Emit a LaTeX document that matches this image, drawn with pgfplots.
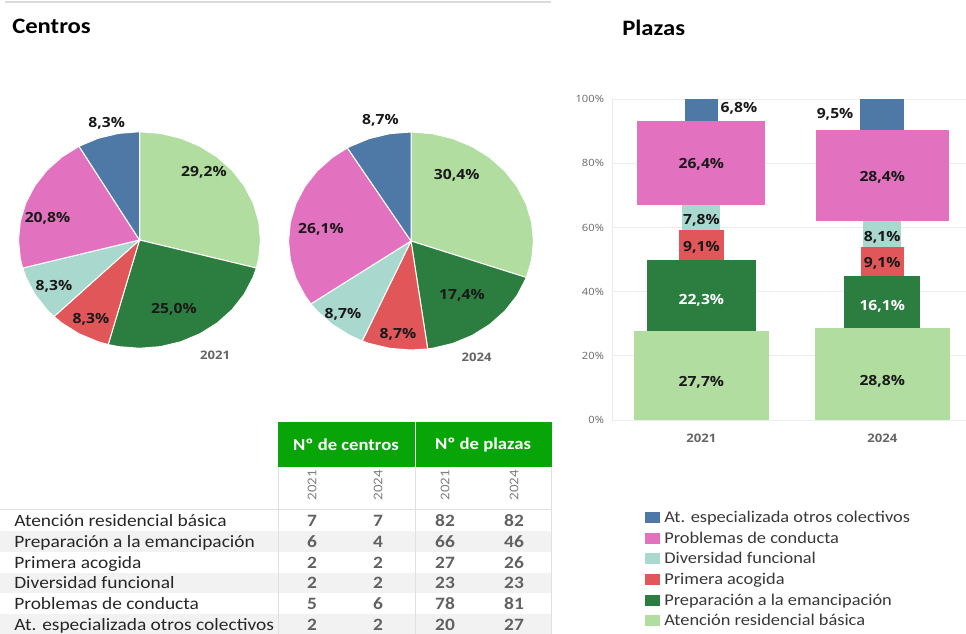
\documentclass[border=0pt]{standalone}
\usepackage{pgfplots}
\pgfplotsset{compat=1.18}
\usepackage{fontspec}
\setmainfont{Carlito}[FakeStretch=1.12]
\newfontfamily\lab{Open Sans}[FakeStretch=1.12]

\definecolor{cLG}{RGB}{177,222,160}
\definecolor{cDG}{RGB}{44,126,64}
\definecolor{cRD}{RGB}{225,86,88}
\definecolor{cTL}{RGB}{168,216,206}
\definecolor{cPK}{RGB}{226,114,192}
\definecolor{cBL}{RGB}{78,121,167}
\definecolor{hdr}{RGB}{8,165,8}

\tikzset{
  lbl/.style={font=\lab\bfseries\fontsize{10.5}{12}\selectfont, text=black!90, inner sep=0pt, text height=7.5pt, text depth=0pt, anchor=center},
  yr/.style={font=\lab\bfseries\fontsize{8.8}{10}\selectfont, text=black!60, inner sep=0pt, text height=6.3pt, text depth=0pt, anchor=center},
}
\pgfplotsset{
  pie/.style={scale only axis, hide axis, xmin=-1, xmax=1, ymin=-1, ymax=1, clip=false},
  slice/.style={fill=#1, draw=white, line width=0.75pt, data cs=polar},
}

\begin{document}
\begin{tikzpicture}
\path[use as bounding box] (0,0) rectangle (724.5pt,-474.75pt);

\begin{scope}[x=0.75pt,y=-0.75pt]
  % top rule and titles
  \draw[line width=1.5pt, black!14] (5,2) -- (551,2);
  \node[anchor=base west, inner sep=0pt, font=\fontsize{16.5}{18}\selectfont\bfseries] at (12,33) {Centros};
  \node[anchor=base west, inner sep=0pt, font=\fontsize{16.5}{18}\selectfont\bfseries] at (622,35) {Plazas};

  % table header
  \fill[hdr] (278.3,422.3) rectangle (414.5,467.3);
  \fill[hdr] (415.5,422.3) rectangle (551.7,467.3);
  \node[font=\fontsize{12.5}{14}\selectfont\bfseries, text=white] at (346,445) {Nº de centros};
  \node[font=\fontsize{12.5}{14}\selectfont\bfseries, text=white] at (483,445) {Nº de plazas};
  \foreach \xx/\yy in {312/2021, 378/2024, 445/2021, 514/2024}
    \node[rotate=90, inner sep=0pt, font=\fontsize{10}{12}\selectfont, text=black!50] at (\xx,485) {\yy};
  % row bands
  \foreach \i in {1,3,5}
    \fill[black!5] (0,{510.6+20.7*\i}) rectangle (552,{510.6+20.7*(\i+1)});
  \draw[black!12, line width=0.75pt] (0,509.5) -- (552,509.5);
  \draw[black!12, line width=0.75pt] (278.3,467.3) -- (278.3,640) (415,467.3) -- (415,640) (551.7,467.3) -- (551.7,640);
  % rows
  \foreach \name/\a/\b/\c/\d [count=\i from 0] in {
      Atención residencial básica/7/7/82/82,
      Preparación a la emancipación/6/4/66/46,
      Primera acogida/2/2/27/26,
      Diversidad funcional/2/2/23/23,
      Problemas de conducta/5/6/78/81,
      At. especializada otros colectivos/2/2/20/27} {
    \node[anchor=west, inner sep=0pt, text height=8.4pt, text depth=0pt, font=\fontsize{13}{15}\selectfont, text=black!85] at (14,{521+20.7*\i}) {\name};
    \foreach \xx/\v in {312/\a, 378/\b, 445/\c, 514/\d}
      \node[inner sep=0pt, text height=8.4pt, text depth=0pt, font=\fontsize{13}{15}\selectfont\bfseries, text=black!62] at (\xx,{521+20.7*\i}) {\v};
  }
\end{scope}

% ---------------- Pie 2021 (centros: 7,6,2,2,5,2 of 24) ----------------
\begin{axis}[pie, at={(104.625pt,-180pt)}, anchor=center, width=181.5pt, height=162.4pt]
\addplot[slice=cLG] coordinates {(0,0) (90,1) (80,1) (70,1) (60,1) (50,1) (40,1) (30,1) (20,1) (10,1) (0,1) (-10,1) (-15,1)} -- cycle;
\addplot[slice=cDG] coordinates {(0,0) (-15,1) (-20,1) (-30,1) (-40,1) (-50,1) (-60,1) (-70,1) (-80,1) (-90,1) (-100,1) (-105,1)} -- cycle;
\addplot[slice=cRD] coordinates {(0,0) (-105,1) (-110,1) (-120,1) (-130,1) (-135,1)} -- cycle;
\addplot[slice=cTL] coordinates {(0,0) (-135,1) (-140,1) (-150,1) (-160,1) (-165,1)} -- cycle;
\addplot[slice=cPK] coordinates {(0,0) (-165,1) (-170,1) (-180,1) (-190,1) (-200,1) (-210,1) (-220,1) (-230,1) (-240,1)} -- cycle;
\addplot[slice=cBL] coordinates {(0,0) (-240,1) (-250,1) (-260,1) (-270,1)} -- cycle;
\node[lbl] at (axis cs:-0.271,1.083) {8,3\%};
\node[lbl] at (axis cs:0.533,0.632) {29,2\%};
\node[lbl] at (axis cs:-0.760,0.204) {20,8\%};
\node[lbl] at (axis cs:-0.707,-0.417) {8,3\%};
\node[lbl] at (axis cs:-0.401,-0.722) {8,3\%};
\node[lbl] at (axis cs:0.285,-0.630) {25,0\%};
\node[yr] at (axis cs:0.624,-1.065) {2021};
\end{axis}

% ---------------- Pie 2024 (centros: 7,4,2,2,6,2 of 23) ----------------
\begin{axis}[pie, at={(308.25pt,-180.75pt)}, anchor=center, width=183.75pt, height=163.5pt]
\addplot[slice=cLG] coordinates {(0,0) (90,1) (80,1) (70,1) (60,1) (50,1) (40,1) (30,1) (20,1) (10,1) (0,1) (-10,1) (-19.57,1)} -- cycle;
\addplot[slice=cDG] coordinates {(0,0) (-19.57,1) (-30,1) (-40,1) (-50,1) (-60,1) (-70,1) (-80,1) (-82.17,1)} -- cycle;
\addplot[slice=cRD] coordinates {(0,0) (-82.17,1) (-90,1) (-100,1) (-110,1) (-113.48,1)} -- cycle;
\addplot[slice=cTL] coordinates {(0,0) (-113.48,1) (-120,1) (-130,1) (-140,1) (-144.78,1)} -- cycle;
\addplot[slice=cPK] coordinates {(0,0) (-144.78,1) (-150,1) (-160,1) (-170,1) (-180,1) (-190,1) (-200,1) (-210,1) (-220,1) (-230,1) (-238.70,1)} -- cycle;
\addplot[slice=cBL] coordinates {(0,0) (-238.70,1) (-240,1) (-250,1) (-260,1) (-270,1)} -- cycle;
\node[lbl] at (axis cs:-0.249,1.117) {8,7\%};
\node[lbl] at (axis cs:0.373,0.606) {30,4\%};
\node[lbl] at (axis cs:-0.735,0.119) {26,1\%};
\node[lbl] at (axis cs:-0.555,-0.661) {8,7\%};
\node[lbl] at (axis cs:-0.106,-0.844) {8,7\%};
\node[lbl] at (axis cs:0.416,-0.495) {17,4\%};
\node[yr] at (axis cs:0.536,-1.064) {2024};
\end{axis}

% ---------------- Plazas: stacked bars, width proportional to nº de plazas ----------------
\begin{axis}[at={(459pt,-315pt)}, anchor=south west, scale only axis,
  width=265.5pt, height=240.75pt,
  xmin=-54.3, xmax=160.9, ymin=0, ymax=100,
  axis lines*=left, axis line style={-}, x axis line style={draw=none}, y axis line style={draw=black!8},
  ymajorgrids, grid style={black!7, line width=0.6pt},
  major tick length=0pt,
  ytick={0,20,40,60,80,100}, yticklabels={0\%,20\%,40\%,60\%,80\%,100\%},
  yticklabel style={font=\lab\fontsize{7.5}{9}\selectfont, text=black!60, anchor=east, inner sep=0pt, xshift=-5.8pt, text height=5.4pt, text depth=0pt},
  xtick={0,110}, xticklabels={2021,2024},
  xticklabel style={font=\lab\bfseries\fontsize{8.8}{10}\selectfont, text=black!60, anchor=center, inner sep=0pt, text height=6.3pt, text depth=0pt, yshift=-13.5pt},
  clip=false,
  reverse legend,
  legend cell align=left,
  legend image code/.code={\fill[#1] (0pt,-0.2pt) rectangle (11.25pt,8.05pt);},
  legend style={at={(0.0932,-0.276)}, anchor=north west, draw=none, fill=none, inner sep=0pt, outer sep=0pt, row sep=0pt, column sep=3.2pt,
    font=\fontsize{12.3}{14}\selectfont, text=black!78,
    nodes={inner sep=0pt, text height=10.5pt, text depth=5pt, anchor=base west}},
]
% Atención residencial básica: 82 / 82 plazas
\addplot[fill=cLG, draw=none, forget plot] coordinates {(-41,0) (41,0) (41,27.7) (-41,27.7)} -- cycle;
\addplot[fill=cLG, draw=none] coordinates {(69,0) (151,0) (151,28.8) (69,28.8)} -- cycle;
\addlegendentry{Atención residencial básica}
% Preparación a la emancipación: 66 / 46
\addplot[fill=cDG, draw=none, forget plot] coordinates {(-33,27.7) (33,27.7) (33,50.0) (-33,50.0)} -- cycle;
\addplot[fill=cDG, draw=none] coordinates {(87,28.8) (133,28.8) (133,44.9) (87,44.9)} -- cycle;
\addlegendentry{Preparación a la emancipación}
% Primera acogida: 27 / 26
\addplot[fill=cRD, draw=none, forget plot] coordinates {(-13.5,50.0) (13.5,50.0) (13.5,59.1) (-13.5,59.1)} -- cycle;
\addplot[fill=cRD, draw=none] coordinates {(97,44.9) (123,44.9) (123,54.0) (97,54.0)} -- cycle;
\addlegendentry{Primera acogida}
% Diversidad funcional: 23 / 23
\addplot[fill=cTL, draw=none, forget plot] coordinates {(-11.5,59.1) (11.5,59.1) (11.5,66.9) (-11.5,66.9)} -- cycle;
\addplot[fill=cTL, draw=none] coordinates {(98.5,54.0) (121.5,54.0) (121.5,62.1) (98.5,62.1)} -- cycle;
\addlegendentry{Diversidad funcional}
% Problemas de conducta: 78 / 81
\addplot[fill=cPK, draw=none, forget plot] coordinates {(-39,66.9) (39,66.9) (39,93.3) (-39,93.3)} -- cycle;
\addplot[fill=cPK, draw=none] coordinates {(69.5,62.1) (150.5,62.1) (150.5,90.5) (69.5,90.5)} -- cycle;
\addlegendentry{Problemas de conducta}
% At. especializada otros colectivos: 20 / 27
\addplot[fill=cBL, draw=none, forget plot] coordinates {(-10,93.3) (10,93.3) (10,100) (-10,100)} -- cycle;
\addplot[fill=cBL, draw=none] coordinates {(96.5,90.5) (123.5,90.5) (123.5,100) (96.5,100)} -- cycle;
\addlegendentry{At. especializada otros colectivos}

\node[lbl] at (axis cs:0,11.9) {27,7\%};
\node[lbl, text=white] at (axis cs:0,37.6) {22,3\%};
\node[lbl] at (axis cs:0,53.9) {9,1\%};
\node[lbl] at (axis cs:0,62.4) {7,8\%};
\node[lbl] at (axis cs:0,79.8) {26,4\%};
\node[lbl] at (axis cs:22.9,97.4) {6,8\%};
\node[lbl] at (axis cs:110,12.4) {28,8\%};
\node[lbl, text=white] at (axis cs:110,35.7) {16,1\%};
\node[lbl] at (axis cs:110,49.2) {9,1\%};
\node[lbl] at (axis cs:110,57.3) {8,1\%};
\node[lbl] at (axis cs:110,75.9) {28,4\%};
\node[lbl] at (axis cs:81.3,95.5) {9,5\%};
\end{axis}
\end{tikzpicture}
\end{document}
